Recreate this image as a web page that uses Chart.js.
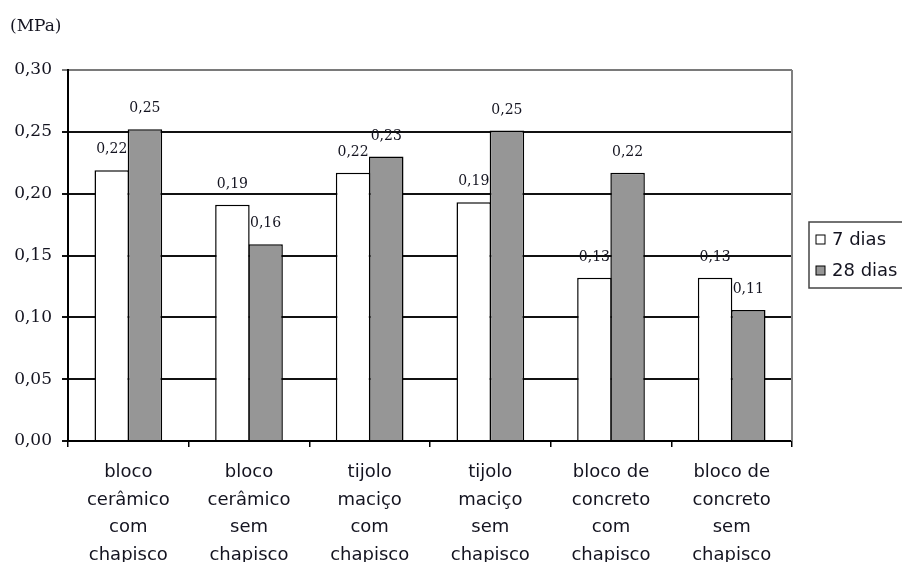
<!DOCTYPE html>
<html>
<head>
<meta charset="utf-8">
<script src="https://cdn.jsdelivr.net/npm/chart.js@4/dist/chart.umd.min.js"></script>
<style>
  html, body { margin: 0; padding: 0; background: #fff; overflow: hidden; }
  #wrap { width: 902px; height: 562px; position: relative; }
</style>
</head>
<body>
<div id="wrap"><canvas id="c" width="902" height="562"></canvas></div>
<script>
// Categories (multi-line labels under each group)
const categories = [
  ['bloco', 'cerâmico', 'com', 'chapisco'],
  ['bloco', 'cerâmico', 'sem', 'chapisco'],
  ['tijolo', 'maciço', 'com', 'chapisco'],
  ['tijolo', 'maciço', 'sem', 'chapisco'],
  ['bloco de', 'concreto', 'com', 'chapisco'],
  ['bloco de', 'concreto', 'sem', 'chapisco']
];

// Series (MPa)
const seriesNames = ['7 dias', '28 dias'];
const dias7  = [0.219, 0.191, 0.217, 0.193, 0.132, 0.132];
const dias28 = [0.252, 0.159, 0.230, 0.251, 0.217, 0.106];

// Y axis
const yMin = 0, yMax = 0.30, yStep = 0.05;
const unitLabel = '(MPa)';

const fmt = v => v.toFixed(2).replace('.', ',');
const TXT = '#141420';

// Value labels above each bar
const valueLabels = {
  id: 'valueLabels',
  afterDatasetsDraw(chart) {
    const ctx = chart.ctx;
    ctx.save();
    ctx.font = '14px "DejaVu Serif"';
    ctx.fillStyle = TXT;
    ctx.textAlign = 'center';
    ctx.textBaseline = 'alphabetic';
    chart.data.datasets.forEach((ds, i) => {
      chart.getDatasetMeta(i).data.forEach((bar, j) => {
        ctx.fillText(fmt(ds.data[j]), bar.x, bar.y - 17);
      });
    });
    ctx.restore();
  }
};

// Frame, unit label and boxed legend
const frameAndLegend = {
  id: 'frameAndLegend',
  afterDraw(chart) {
    const ctx = chart.ctx;
    const a = chart.chartArea;
    ctx.save();
    // right frame edge
    ctx.strokeStyle = '#808080';
    ctx.lineWidth = 2;
    ctx.beginPath();
    ctx.moveTo(a.right, a.top);
    ctx.lineTo(a.right, a.bottom);
    ctx.stroke();

    // unit
    ctx.font = '17px "DejaVu Serif"';
    ctx.fillStyle = TXT;
    ctx.textAlign = 'left';
    ctx.textBaseline = 'middle';
    ctx.fillText(unitLabel, 10, 27);

    // legend
    const lx = 809, ly = 222, lw = 110, lh = 66;
    ctx.strokeStyle = '#444';
    ctx.lineWidth = 1.5;
    ctx.fillStyle = '#fff';
    ctx.fillRect(lx, ly, lw, lh);
    ctx.strokeRect(lx, ly, lw, lh);
    ctx.font = '18px "DejaVu Sans"';
    const rows = [240, 271];
    chart.data.datasets.forEach((ds, i) => {
      const cy = rows[i];
      ctx.fillStyle = ds.backgroundColor;
      ctx.fillRect(816, cy - 5, 9, 9);
      ctx.strokeStyle = '#000';
      ctx.lineWidth = 1;
      ctx.strokeRect(816, cy - 5, 9, 9);
      ctx.fillStyle = TXT;
      ctx.textBaseline = 'middle';
      ctx.fillText(ds.label, 832, cy);
    });
    ctx.restore();
  }
};

new Chart(document.getElementById('c'), {
  type: 'bar',
  data: {
    labels: categories,
    datasets: [
      { label: seriesNames[0], data: dias7, backgroundColor: '#ffffff',
        borderColor: '#000', borderWidth: 1.5, borderSkipped: 'bottom' },
      { label: seriesNames[1], data: dias28, backgroundColor: '#969696',
        borderColor: '#000', borderWidth: 1.5, borderSkipped: 'bottom' }
    ]
  },
  options: {
    responsive: false,
    animation: false,
    layout: { padding: { top: 70, right: 110, left: 0, bottom: 0 } },
    datasets: { bar: { categoryPercentage: 0.55, barPercentage: 1.04 } },
    plugins: { legend: { display: false }, tooltip: { enabled: false } },
    scales: {
      x: {
        grid: { drawOnChartArea: false, drawTicks: true, tickLength: 6,
                color: '#000', lineWidth: 1.5, offset: true },
        border: { color: '#000', width: 2 },
        ticks: { color: TXT, padding: 11, maxRotation: 0, autoSkip: false,
                 font: { family: 'DejaVu Sans', size: 18, lineHeight: 1.55 } },
        afterFit(s) { s.height = 121; }
      },
      y: {
        min: yMin, max: yMax,
        grid: {
          tickLength: 6,
          color: c => (Math.abs(c.tick.value - yMax) < 1e-9 ? '#7a7a7a' : '#111'),
          lineWidth: 2
        },
        border: { color: '#000', width: 2 },
        ticks: { stepSize: yStep, color: TXT, padding: 10,
                 font: { family: 'DejaVu Serif', size: 17 },
                 callback: v => fmt(v) },
        afterFit(s) { s.width = 68; }
      }
    }
  },
  plugins: [valueLabels, frameAndLegend]
});
</script>
</body>
</html>
